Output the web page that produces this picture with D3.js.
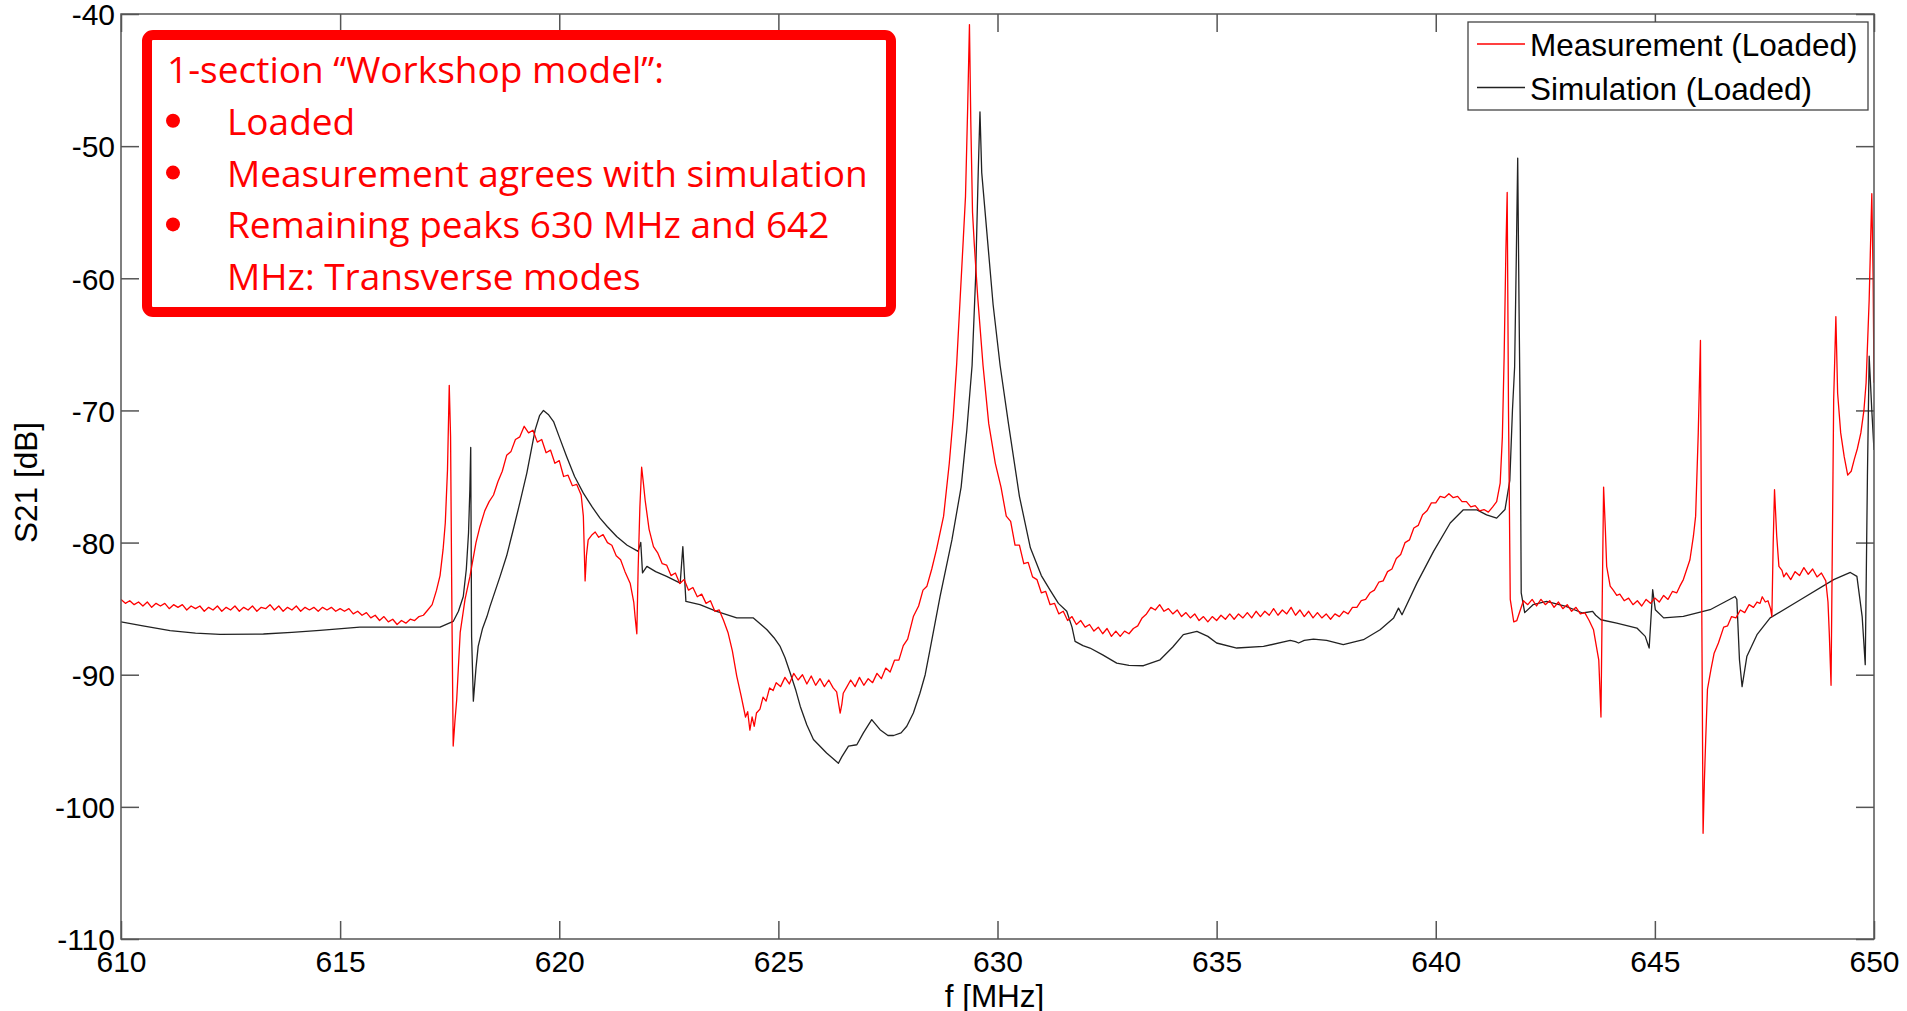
<!DOCTYPE html>
<html>
<head>
<meta charset="utf-8">
<script src="https://cdn.jsdelivr.net/npm/d3@7/dist/d3.min.js"></script>
<style>
  body { margin: 0; background: #fff; }
  svg { display: block; }
  .axis text { font-family: "Liberation Sans", Arial, sans-serif; font-size: 30px; fill: #000; }
  .axis line { stroke: #555; stroke-width: 1.5; }
  .axis path { display: none; }
  .label { font-family: "Liberation Sans", Arial, sans-serif; font-size: 31.5px; fill: #000; }
  .note { font-family: "Open Sans", Lato, sans-serif; font-size: 37px; fill: #ff0000; }
</style>
</head>
<body>
<svg id="s21" width="1907" height="1011"></svg>
<script>
var measFreq = [610.0, 610.1, 610.2, 610.3, 610.4, 610.5, 610.6, 610.7, 610.8, 610.9, 611.0, 611.1, 611.2, 611.3, 611.4, 611.5, 611.6, 611.7, 611.8, 611.9, 612.0, 612.1, 612.2, 612.3, 612.4, 612.5, 612.6, 612.7, 612.8, 612.9, 613.0, 613.1, 613.2, 613.3, 613.4, 613.5, 613.6, 613.7, 613.8, 613.9, 614.0, 614.1, 614.2, 614.3, 614.4, 614.5, 614.6, 614.7, 614.8, 614.9, 615.0, 615.1, 615.2, 615.3, 615.4, 615.5, 615.6, 615.7, 615.8, 615.9, 616.0, 616.1, 616.2, 616.3, 616.4, 616.5, 616.6, 616.7, 616.8, 616.9, 617.0,
  617.1, 617.2, 617.28, 617.35, 617.4, 617.45, 617.49, 617.52, 617.55, 617.58, 617.62, 617.66, 617.74, 617.85, 617.96, 618.1, 618.19,
  618.3, 618.4, 618.5, 618.6, 618.7, 618.8, 618.9, 619.0, 619.1, 619.2, 619.3, 619.4, 619.5, 619.6, 619.7, 619.8, 619.9, 620.0, 620.1, 620.2, 620.3, 620.4, 620.5, 620.55, 620.59, 620.62, 620.66, 620.75, 620.82, 620.9, 621.0, 621.1, 621.2, 621.3, 621.4, 621.5, 621.62, 621.7, 621.73, 621.77, 621.8, 621.84, 621.88, 621.92, 621.96,
  622.05, 622.15, 622.25, 622.35, 622.45, 622.55, 622.65, 622.75, 622.85, 622.95, 623.05, 623.15, 623.25, 623.35, 623.45, 623.55, 623.65, 623.75, 623.85, 623.95, 624.05, 624.15, 624.25, 624.3, 624.35, 624.4, 624.45, 624.5, 624.58, 624.65, 624.72, 624.8, 624.88, 624.95, 625.05, 625.15, 625.25, 625.35, 625.45, 625.55, 625.65, 625.75, 625.85, 625.95, 626.05, 626.15, 626.25, 626.33, 626.41, 626.45, 626.48, 626.55, 626.65, 626.75, 626.85, 626.95, 627.05, 627.15, 627.25, 627.35, 627.45, 627.55, 627.65, 627.75, 627.85, 627.95, 628.08, 628.2, 628.3, 628.39, 628.5, 628.61,
  628.77, 628.9, 628.99, 629.07, 629.15, 629.22, 629.27, 629.32, 629.36, 629.39, 629.43, 629.47, 629.55, 629.67, 629.8, 629.95, 630.08, 630.2,
  630.3, 630.4, 630.5, 630.6, 630.7, 630.8, 630.9, 631.0, 631.1, 631.2, 631.3, 631.4, 631.5, 631.6, 631.7, 631.8, 631.9, 632.0, 632.1, 632.2, 632.3, 632.4, 632.5, 632.6, 632.7, 632.8, 632.9, 633.0, 633.1, 633.2, 633.3, 633.4, 633.5, 633.6, 633.7, 633.8, 633.9, 634.0, 634.1, 634.2, 634.3, 634.4, 634.5, 634.6, 634.7, 634.8, 634.9, 635.0, 635.1, 635.2, 635.3, 635.4, 635.5, 635.6, 635.7, 635.8, 635.9, 636.0, 636.1, 636.2, 636.3, 636.4, 636.5, 636.6, 636.7, 636.8, 636.9, 637.0, 637.1, 637.2, 637.3, 637.4, 637.5, 637.6, 637.7, 637.8, 637.9, 638.0, 638.1, 638.2, 638.3, 638.4, 638.5, 638.6, 638.7, 638.8, 638.9, 639.0, 639.1, 639.2, 639.3, 639.4, 639.5, 639.6, 639.7, 639.8, 639.9, 640.0, 640.1, 640.2, 640.3, 640.4, 640.5, 640.6, 640.7, 640.8, 640.9, 641.0, 641.1, 641.2, 641.3, 641.39,
  641.47, 641.52, 641.56, 641.6, 641.63, 641.66, 641.7, 641.78, 641.85, 641.92, 642.0,
  642.1, 642.2, 642.3, 642.4, 642.5, 642.6, 642.7, 642.8, 642.9, 643.0, 643.1, 643.2, 643.3, 643.4, 643.5, 643.6, 643.72, 643.77, 643.8, 643.83, 643.87, 643.9, 643.98, 644.05, 644.13, 644.2, 644.3, 644.4, 644.5, 644.6, 644.7, 644.8, 644.9, 645.0, 645.1, 645.2, 645.3, 645.4, 645.5, 645.57, 645.65, 645.8, 645.88, 645.93, 645.99, 646.04, 646.07, 646.1, 646.13, 646.16, 646.2, 646.28, 646.35, 646.45, 646.57, 646.66, 646.75, 646.85, 646.95, 647.05, 647.15, 647.25, 647.33, 647.4, 647.45, 647.52, 647.58, 647.64, 647.67, 647.7, 647.73, 647.78, 647.83, 647.9, 647.94, 648.0, 648.1, 648.2, 648.3, 648.4, 648.5, 648.6, 648.7, 648.8, 648.9, 648.95, 648.98, 649.02,
  649.05, 649.08, 649.13, 649.17, 649.24, 649.32, 649.4, 649.48, 649.55, 649.62, 649.7, 649.77, 649.82, 649.89, 649.95, 649.98, 650.0];
var measDb = [-84.3, -84.6, -84.4, -84.7, -84.5, -84.8, -84.5, -84.9, -84.6, -84.8, -84.6, -85.0, -84.7, -84.9, -84.7, -85.1, -84.8, -85.0, -84.8, -85.2, -84.9, -85.1, -84.8, -85.2, -84.9, -85.1, -84.8, -85.2, -84.9, -85.1, -84.8, -85.2, -84.9, -85.0, -84.7, -85.1, -84.8, -85.2, -84.9, -85.1, -84.8, -85.2, -84.9, -85.1, -84.9, -85.2, -84.9, -85.1, -84.9, -85.2, -85.0, -85.2, -85.0, -85.4, -85.2, -85.5, -85.3, -85.7, -85.5, -85.9, -85.6, -86.0, -85.8, -86.2, -85.9, -86.1, -85.8, -85.9, -85.6, -85.5, -85.1,
  -84.7, -83.6, -82.5, -80.5, -78.5, -74.5, -68.1, -72.0, -85.0, -95.4, -93.5, -91.9, -86.8, -84.3, -82.6, -80.0, -78.8,
  -77.6, -76.9, -76.4, -75.4, -74.6, -73.4, -73.1, -72.2, -72.0, -71.2, -71.7, -71.5, -72.4, -72.2, -73.2, -73.0, -74.0, -73.8, -75.0, -74.9, -75.7, -75.6, -76.4, -78.0, -82.9, -81.0, -79.8, -79.4, -79.2, -79.6, -79.4, -80.0, -80.2, -81.0, -81.3, -82.2, -83.1, -84.5, -85.6, -86.9, -82.0, -77.3, -74.3, -75.5, -76.8,
  -79.0, -80.3, -80.8, -81.6, -81.7, -82.5, -82.3, -83.1, -82.8, -83.6, -83.4, -84.1, -83.9, -84.6, -84.4, -85.2, -85.1, -85.9, -86.8, -88.2, -90.1, -91.6, -93.2, -92.8, -94.2, -93.2, -93.9, -92.9, -92.6, -91.7, -92.0, -91.0, -91.2, -90.6, -90.9, -90.2, -90.7, -89.9, -90.4, -90.0, -90.7, -90.1, -90.8, -90.3, -90.9, -90.4, -91.0, -91.3, -92.9, -92.2, -91.4, -91.0, -90.4, -90.9, -90.2, -90.8, -90.3, -90.6, -89.9, -90.3, -89.5, -89.8, -88.9, -88.9, -87.8, -87.3, -85.6, -84.8, -83.6, -83.3, -82.0, -80.5,
  -78.0, -74.0, -70.5, -66.4, -61.4, -57.0, -53.8, -47.0, -40.8, -48.0, -55.0, -57.4, -61.5, -66.6, -71.0, -74.0, -75.8, -78.0,
  -78.4, -80.2, -80.2, -81.6, -81.5, -82.6, -82.8, -83.8, -83.7, -84.7, -84.6, -85.4, -85.2, -85.9, -85.6, -86.2, -85.9, -86.4, -86.2, -86.7, -86.4, -86.9, -86.5, -87.1, -86.7, -87.1, -86.7, -86.9, -86.5, -86.3, -85.7, -85.4, -84.9, -85.1, -84.7, -85.2, -85.0, -85.4, -85.1, -85.6, -85.3, -85.7, -85.4, -85.9, -85.6, -86.0, -85.6, -85.9, -85.5, -85.8, -85.4, -85.8, -85.4, -85.7, -85.3, -85.7, -85.2, -85.6, -85.2, -85.5, -85.0, -85.5, -85.1, -85.4, -84.9, -85.5, -85.1, -85.6, -85.2, -85.7, -85.3, -85.7, -85.4, -85.8, -85.4, -85.6, -85.2, -85.4, -84.9, -84.9, -84.4, -84.3, -83.8, -83.6, -83.0, -82.9, -82.2, -82.0, -81.2, -80.9, -80.0, -79.8, -78.9, -78.7, -77.9, -77.6, -77.0, -77.0, -76.5, -76.6, -76.3, -76.6, -76.5, -76.9, -76.9, -77.3, -77.2, -77.6, -77.5, -77.7, -77.3, -76.9,
  -75.5, -72.0, -66.0, -58.0, -53.5, -70.0, -84.3, -86.0, -85.9, -85.2, -84.4,
  -84.7, -84.3, -84.8, -84.3, -84.7, -84.4, -84.9, -84.5, -85.0, -84.7, -85.2, -84.9, -85.4, -85.3, -85.9, -86.6, -88.9, -93.2, -84.0, -75.8, -79.0, -81.8, -83.3, -83.6, -84.0, -83.9, -84.4, -84.2, -84.7, -84.4, -84.8, -84.3, -84.6, -84.2, -84.5, -84.0, -84.3, -83.7, -83.8, -83.3, -82.8, -81.3, -79.5, -78.0, -71.7, -64.7, -85.0, -102.0, -98.0, -94.9, -91.1, -89.6, -88.4, -87.6, -86.4, -86.3, -85.6, -85.7, -85.1, -85.3, -84.7, -84.9, -84.5, -84.6, -84.1, -84.5, -84.4, -85.0, -85.6, -80.0, -76.0, -79.5, -81.8, -82.1, -82.6, -82.3, -82.8, -82.2, -82.5, -81.9, -82.4, -82.0, -82.6, -82.3, -82.9, -84.5, -86.9, -90.8,
  -80.0, -69.2, -62.9, -68.7, -71.7, -73.5, -74.9, -74.6, -73.7, -72.9, -71.7, -70.0, -67.9, -61.6, -53.6, -60.0, -67.9];

// simulated S21, loaded cavity
var simFreq = [610.0, 610.5, 611.12, 611.7, 612.26, 613.25, 613.9, 614.54, 615.45, 616.4, 617.28, 617.58, 617.7, 617.81, 617.88, 617.93, 617.96, 617.98, 618.0, 618.04, 618.1, 618.15, 618.25, 618.35, 618.42, 618.65, 618.8, 618.95, 619.1, 619.26, 619.45, 619.55, 619.64, 619.75, 619.87, 620.0, 620.17, 620.35, 620.55, 620.75, 620.93, 621.1, 621.31, 621.55, 621.8, 621.86, 621.9, 622.0, 622.2, 622.45, 622.76, 622.82, 622.89, 623.21, 623.59, 624.05, 624.43, 624.74, 624.9, 625.04, 625.15, 625.27, 625.4, 625.5, 625.65, 625.8, 626.1, 626.37, 626.45, 626.6, 626.79, 626.94, 627.13, 627.32, 627.5, 627.63, 627.8, 627.93, 628.08, 628.23, 628.35, 628.46, 628.58, 628.69, 628.96, 629.17, 629.3, 629.42, 629.5, 629.56, 629.6, 629.64, 629.78, 629.9, 630.06, 630.25, 630.5, 630.75, 631.0, 631.2, 631.39, 631.58, 631.7, 631.77, 631.95, 632.11, 632.4, 632.72, 633.0, 633.33, 633.71, 634.0, 634.24, 634.55, 634.8, 635.0, 635.46, 636.07, 636.68, 636.8, 636.87, 637.0, 637.21, 637.51, 637.89, 638.35, 638.73, 639.04, 639.15, 639.23, 639.57, 639.95, 640.33, 640.63, 640.94, 641.16, 641.39, 641.58, 641.69, 641.75, 641.8, 641.84, 641.87, 641.9, 641.93, 641.95, 642.03, 642.22, 642.53, 642.97, 643.35, 643.58, 643.65, 643.77, 644.13, 644.59, 644.78, 644.87, 644.95, 645.01, 645.2, 645.65, 646.26, 646.83, 646.87, 646.93, 646.99, 647.1, 647.33, 647.63, 648.32, 649.08, 649.46, 649.61, 649.73, 649.8, 649.85, 649.89, 649.95, 650.0];
var simDb = [-86.0, -86.3, -86.67, -86.85, -86.95, -86.92, -86.8, -86.64, -86.4, -86.4, -86.4, -85.97, -85.2, -84.08, -82.0, -79.26, -76.0, -72.8, -87.1, -92.0, -89.5, -87.86, -86.5, -85.6, -84.83, -82.56, -81.0, -79.03, -77.0, -74.74, -71.47, -70.4, -70.0, -70.3, -70.84, -72.0, -73.5, -75.0, -76.26, -77.3, -78.15, -78.8, -79.54, -80.2, -80.67, -79.99, -82.3, -81.8, -82.2, -82.56, -83.07, -80.3, -84.45, -84.7, -85.2, -85.7, -85.7, -86.6, -87.2, -87.86, -88.7, -89.87, -91.2, -92.4, -93.8, -94.9, -95.93, -96.7, -96.2, -95.4, -95.3, -94.4, -93.4, -94.16, -94.6, -94.6, -94.4, -93.9, -92.9, -91.4, -90.0, -88.1, -86.0, -84.08, -79.8, -75.8, -71.5, -66.6, -60.0, -52.0, -47.4, -52.0, -57.4, -62.0, -66.6, -71.0, -76.5, -80.4, -82.5, -83.6, -84.6, -85.2, -86.4, -87.48, -87.8, -87.98, -88.5, -89.12, -89.3, -89.32, -88.87, -87.9, -86.97, -86.72, -87.1, -87.6, -87.98, -87.86, -87.4, -87.5, -87.6, -87.4, -87.3, -87.4, -87.73, -87.35, -86.6, -85.7, -84.96, -85.46, -83.07, -80.67, -78.52, -77.52, -77.52, -77.9, -78.15, -77.5, -75.3, -70.0, -66.7, -58.0, -50.9, -62.0, -71.5, -83.8, -85.3, -84.7, -84.45, -84.83, -85.33, -85.2, -85.5, -85.84, -86.1, -86.47, -87.1, -87.98, -83.57, -85.08, -85.7, -85.58, -85.08, -84.08, -84.3, -88.87, -90.9, -88.6, -86.97, -85.7, -84.33, -82.8, -82.26, -82.56, -85.6, -89.24, -75.0, -65.9, -70.0, -73.0];

var xTicks = [610, 615, 620, 625, 630, 635, 640, 645, 650];
var yTicks = [-110, -100, -90, -80, -70, -60, -50, -40];
var seriesNames = ["Measurement (Loaded)", "Simulation (Loaded)"];
var seriesColors = ["#ff0000", "#222222"];
var noteTitle = "1-section \u201cWorkshop model\u201d:";
var noteBullets = [["Loaded"], ["Measurement agrees with simulation"], ["Remaining peaks 630 MHz and 642", "MHz: Transverse modes"]];

var svg = d3.select("#s21"),
  margin = { top: 14, right: 33, bottom: 72, left: 121 },
  width = +svg.attr("width") - margin.left - margin.right,
  height = +svg.attr("height") - margin.top - margin.bottom;

var x = d3.scaleLinear().domain([610, 650]).range([0, width]),
  y = d3.scaleLinear().domain([-110, -40]).range([height, 0]);

var g = svg.append("g")
  .attr("transform", "translate(" + margin.left + "," + margin.top + ")");

g.append("clipPath").attr("id", "plot-clip")
  .append("rect").attr("width", width).attr("height", height);

var fmt = function (d) { return String(d); };

// ticks point inward on all four sides, like the MATLAB box
g.append("g").attr("class", "axis axis--x")
  .attr("transform", "translate(0," + height + ")")
  .call(d3.axisBottom(x).tickValues(xTicks).tickFormat(fmt).tickSizeInner(-18).tickSizeOuter(0).tickPadding(12));

g.append("g").attr("class", "axis axis--x2")
  .call(d3.axisTop(x).tickValues(xTicks).tickFormat("").tickSizeInner(-18).tickSizeOuter(0));

g.append("g").attr("class", "axis axis--y")
  .call(d3.axisLeft(y).tickValues(yTicks).tickFormat(fmt).tickSizeInner(-18).tickSizeOuter(0).tickPadding(6))
  .selectAll("text").attr("dy", "0.36em");

g.append("g").attr("class", "axis axis--y2")
  .attr("transform", "translate(" + width + ",0)")
  .call(d3.axisRight(y).tickValues(yTicks).tickFormat("").tickSizeInner(-18).tickSizeOuter(0));

var line = d3.line()
  .x(function (d) { return x(d[0]); })
  .y(function (d) { return y(d[1]); });

var series = [
  d3.zip(measFreq, measDb),
  d3.zip(simFreq, simDb)
];

// simulation first, measurement on top
g.append("g").attr("clip-path", "url(#plot-clip)")
  .selectAll(".trace")
  .data([1, 0])
  .enter().append("path")
  .attr("class", "trace")
  .attr("fill", "none")
  .attr("stroke", function (d) { return seriesColors[d]; })
  .attr("stroke-width", 1.3)
  .attr("stroke-linejoin", "round")
  .attr("d", function (d) { return line(series[d]); });

g.append("rect")
  .attr("width", width).attr("height", height)
  .attr("fill", "none").attr("stroke", "#555").attr("stroke-width", 1.5);

// axis titles
svg.append("text").attr("class", "label")
  .attr("text-anchor", "middle")
  .attr("transform", "translate(37," + (margin.top + height / 2 + 6) + ") rotate(-90)")
  .text("S21 [dB]");

svg.append("text").attr("class", "label")
  .attr("text-anchor", "middle")
  .attr("x", margin.left + width / 2 - 3)
  .attr("y", 1007)
  .text("f [MHz]");

// legend
var legend = svg.append("g").attr("transform", "translate(1468,22)");
legend.append("rect")
  .attr("width", 400).attr("height", 88)
  .attr("fill", "#fff").attr("stroke", "#444").attr("stroke-width", 1.3);
var items = legend.selectAll(".item")
  .data(seriesNames)
  .enter().append("g")
  .attr("class", "item")
  .attr("transform", function (d, i) { return "translate(0," + (22 + i * 43.5) + ")"; });
items.append("line")
  .attr("x1", 9).attr("x2", 57)
  .attr("stroke", function (d, i) { return seriesColors[i]; })
  .attr("stroke-width", 1.3);
items.append("text").attr("class", "label")
  .attr("x", 62).attr("y", 12)
  .text(function (d) { return d; });

// red annotation box
var note = svg.append("g");
note.append("rect")
  .attr("x", 147).attr("y", 35).attr("width", 744).attr("height", 277)
  .attr("rx", 6)
  .attr("fill", "none").attr("stroke", "#ff0000").attr("stroke-width", 10);
note.append("text").attr("class", "note")
  .attr("x", 167).attr("y", 83)
  .text(noteTitle);
var row = 1;
noteBullets.forEach(function (b) {
  note.append("circle")
    .attr("cx", 173).attr("cy", 83 + row * 51.8 - 14)
    .attr("r", 7).attr("fill", "#ff0000");
  b.forEach(function (t) {
    note.append("text").attr("class", "note")
      .attr("x", 227).attr("y", 83 + row * 51.8)
      .text(t);
    row++;
  });
});
</script>
</body>
</html>
